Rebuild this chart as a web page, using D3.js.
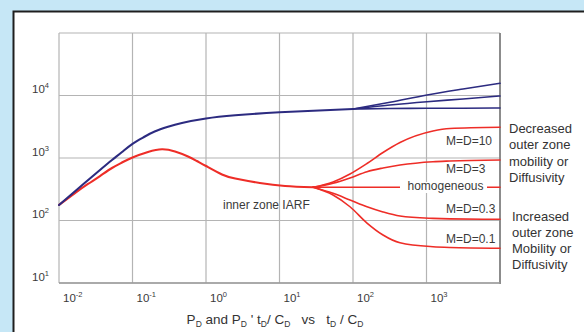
<!DOCTYPE html>
<html>
<head>
<meta charset="utf-8">
<script src="https://cdn.jsdelivr.net/npm/d3@7/dist/d3.min.js"></script>
<style>
  html, body { margin: 0; padding: 0; background: #c6e7f6; }
  svg { display: block; font-family: "Liberation Sans", Arial, sans-serif; }
  text { white-space: pre; }
</style>
</head>
<body>
<svg id="chart" width="584" height="332"></svg>
<script>
// Dimensionless time axis (t_D / C_D) and tick labels
const xTickValues = [1e-2, 1e-1, 1e0, 1e1, 1e2, 1e3];
const xTickExps = ["-2", "-1", "0", "1", "2", "3"];
const yTickValues = [1e1, 1e2, 1e3, 1e4];
const yTickExps = ["1", "2", "3", "4"];
const xGrid = [1e-2, 1e-1, 1e0, 1e1, 1e2, 1e3, 1e4];
const yGrid = [1e1, 1e2, 1e3, 1e4, 1e5];

// Pressure response P_D (common early-time part)
const tEarly = [0.01, 0.0193, 0.0361, 0.0526, 0.072, 0.1, 0.1434, 0.2, 0.304, 0.47, 1, 2.5, 10, 100];
const pressureEarly = [177, 344, 643, 929, 1247, 1687, 2168, 2646, 3155, 3631, 4285, 4819, 5383, 6081];

// Pressure response late-time branches
const tLate = [100, 318, 1016, 3141, 10000];
const pressureHigh = [6081, 7786, 10190, 12700, 15670];
const pressureMid = [6081, 7047, 7961, 8790, 9817];
const pressureLow = [6081, 6206, 6240, 6266, 6310];

// Pressure derivative P_D' t_D / C_D (common part up to the inner zone IARF)
const tDeriv = [0.01, 0.0165, 0.0248, 0.0361, 0.0526, 0.072, 0.1, 0.1625, 0.252, 0.379, 0.569, 0.75, 1, 1.65, 2.5, 5.4, 11.9, 28.6];
const derivative = [177, 275, 384, 515, 692, 847, 1019, 1247, 1377, 1271, 1057, 895, 745, 545, 470, 398, 356, 340];

// Derivative branches for each mobility / diffusivity ratio
const tBranch = [28.6, 53.5, 91, 155, 256, 436, 1225, 2089, 10000];
const derivMD10 = [340, 413, 555, 817, 1225, 1770, 2704, 2965, 3100];
const derivMD3 = [340, 394, 479, 604, 692, 773, 873, 895, 929];
const derivHomog = [340, 340, 340, 340, 340, 340, 340, 340, 340];
const derivMD03 = [340, 272, 213, 166, 137, 118, 108, 106, 104.5];
const derivMD01 = [340, 256, 166, 91, 58.6, 44, 38, 37, 36];

const branchLabels = ["M=D=10", "M=D=3", "homogeneous", "M=D=0.3", "M=D=0.1"];
const decreasedText = ["Decreased", "outer zone", "mobility or", "Diffusivity"];
const increasedText = ["Increased", "outer zone", "Mobility or", "Diffusivity"];

const blue = "#2c2b80";
const red = "#ee2d27";

const svg = d3.select("#chart");

// page background and framed white panel
svg.append("rect").attr("width", 584).attr("height", 332).attr("fill", "#c6e7f6");
svg.append("rect")
  .attr("x", 13.5).attr("y", 11.5).attr("width", 600).attr("height", 360)
  .attr("fill", "#ffffff").attr("stroke", "#1e1e1e").attr("stroke-width", 2);

const x = d3.scaleLog().domain([1e-2, 1e4]).range([59, 500]);
const y = d3.scaleLog().domain([1e1, 1e5]).range([283, 33]);

// grid
const grid = svg.append("g");
grid.selectAll("line.v").data(xGrid).join("line")
  .attr("x1", d => x(d)).attr("x2", d => x(d))
  .attr("y1", y(1e5)).attr("y2", y(1e1))
  .attr("stroke", "#b4b4b4").attr("stroke-width", 1.2);
grid.selectAll("line.h").data(yGrid).join("line")
  .attr("x1", x(1e-2)).attr("x2", x(1e4))
  .attr("y1", d => y(d)).attr("y2", d => y(d))
  .attr("stroke", "#b4b4b4").attr("stroke-width", 1.2);
// darker right and bottom frame
svg.append("line").attr("x1", x(1e4)).attr("x2", x(1e4)).attr("y1", y(1e5)).attr("y2", y(1e1) + 1)
  .attr("stroke", "#8c8c8c").attr("stroke-width", 2);
svg.append("line").attr("x1", x(1e-2)).attr("x2", x(1e4)).attr("y1", y(1e1)).attr("y2", y(1e1))
  .attr("stroke", "#9a9a9a").attr("stroke-width", 1.4);

// power-of-ten label: "10" with superscript exponent
function powerLabel(textSel, exps) {
  textSel.each(function (d, i) {
    const t = d3.select(this).text(null);
    t.append("tspan").text("10");
    t.append("tspan").attr("dy", -5).attr("font-size", "7.5px").text(exps[i]);
  });
}

// axes
const xAxis = svg.append("g").attr("transform", `translate(0,${y(1e1)})`)
  .call(d3.axisBottom(x).tickValues(xTickValues).tickSize(0).tickFormat(() => "10"));
xAxis.select(".domain").remove();
xAxis.selectAll("text")
  .attr("text-anchor", "start").attr("x", 3.5).attr("y", 19).attr("dy", 0)
  .attr("font-size", "11.5px").attr("font-family", "Liberation Sans, Arial, sans-serif")
  .attr("fill", "#3a3a3a")
  .call(powerLabel, xTickExps);

const yAxis = svg.append("g").attr("transform", `translate(${x(1e-2)},0)`)
  .call(d3.axisLeft(y).tickValues(yTickValues).tickSize(0).tickFormat(() => "10"));
yAxis.select(".domain").remove();
yAxis.selectAll("text")
  .attr("text-anchor", "start").attr("x", -27).attr("dy", -3)
  .attr("font-size", "11.5px").attr("font-family", "Liberation Sans, Arial, sans-serif")
  .attr("fill", "#3a3a3a")
  .call(powerLabel, yTickExps);

// curves: smooth splines for the main responses, monotone for the branches
const smoothLine = d3.line()
  .x(d => x(d[0])).y(d => y(d[1]))
  .curve(d3.curveNatural);
const branchLine = d3.line()
  .x(d => x(d[0])).y(d => y(d[1]))
  .curve(d3.curveMonotoneX);
const pairs = (ts, vs) => ts.map((t, i) => [t, vs[i]]);

const curves = svg.append("g").attr("fill", "none").attr("stroke-linecap", "round");

// derivative branches
[derivMD10, derivMD3, derivHomog, derivMD03, derivMD01].forEach(vals => {
  curves.append("path").attr("d", branchLine(pairs(tBranch, vals)))
    .attr("stroke", red).attr("stroke-width", 1.6);
});
curves.append("path").attr("d", smoothLine(pairs(tDeriv, derivative)))
  .attr("stroke", red).attr("stroke-width", 2.1);

// pressure
[pressureHigh, pressureMid, pressureLow].forEach(vals => {
  curves.append("path").attr("d", branchLine(pairs(tLate, vals)))
    .attr("stroke", blue).attr("stroke-width", 1.6);
});
curves.append("path").attr("d", smoothLine(pairs(tEarly, pressureEarly)))
  .attr("stroke", blue).attr("stroke-width", 2.1);

// branch labels
const labelY = [145, 173, 190, 213, 243];
const labels = svg.append("g").attr("font-size", "12px").attr("fill", "#3a3a3a");
branchLabels.forEach((txt, i) => {
  if (txt === "homogeneous") {
    labels.append("rect").attr("x", 400).attr("y", 182).attr("width", 87).attr("height", 11).attr("fill", "#ffffff");
    labels.append("text").attr("x", 445.5).attr("y", labelY[i]).attr("text-anchor", "middle").text(txt);
  } else {
    labels.append("text").attr("x", 446).attr("y", labelY[i]).text(txt);
  }
});
labels.append("text").attr("x", 223).attr("y", 209).text("inner zone IARF");

// side annotations
const side = svg.append("g").attr("font-size", "13px").attr("fill", "#333333");
decreasedText.forEach((s, i) => side.append("text").attr("x", 509).attr("y", 133 + i * 16.4).text(s));
increasedText.forEach((s, i) => side.append("text").attr("x", 512).attr("y", 221 + i * 16).text(s));

// x-axis title with subscripts
const titleParts = [
  ["P", 0], ["D", 1], [" and P", 0], ["D", 1], [" ' t", 0], ["D", 1], ["/ C", 0], ["D", 1],
  ["   vs   t", 0], ["D", 1], [" / C", 0], ["D", 1]
];
const title = svg.append("text").attr("x", 275).attr("y", 324)
  .attr("text-anchor", "middle").attr("font-size", "13.5px").attr("fill", "#333333");
let shifted = false;
titleParts.forEach(([s, sub]) => {
  const ts = title.append("tspan").text(s);
  if (sub) { ts.attr("font-size", "8.5px").attr("dy", 3); shifted = true; }
  else if (shifted) { ts.attr("dy", -3); shifted = false; }
});
</script>
</body>
</html>
